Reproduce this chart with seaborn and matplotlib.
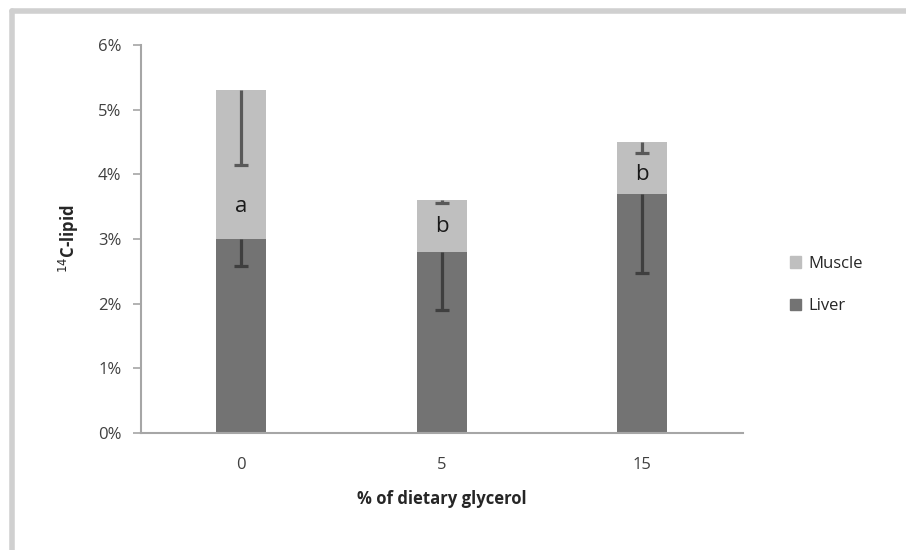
import numpy as np
import pandas as pd
import matplotlib.pyplot as plt
import seaborn as sns
from matplotlib.lines import Line2D
from matplotlib.patches import Patch

groups = ["0", "5", "15"]
liver = [3.0, 2.8, 3.7]
muscle = [2.3, 0.8, 0.8]
liver_err = [0.42, 0.9, 1.23]
muscle_err = [1.15, 0.05, 0.17]
letters = ["a", "b", "b"]
letter_y = [3.5, 3.2, 4.0]

df = pd.DataFrame({"group": groups, "liver": liver, "muscle": muscle})
df["total"] = df["liver"] + df["muscle"]

sns.set_style("white")
plt.rcParams["font.family"] = ["Open Sans", "DejaVu Sans"]

fig = plt.figure(figsize=(9.06, 5.5), dpi=100)
ax = fig.add_axes([0.1556, 0.2127, 0.664, 0.7053])

c_liver = "#737373"
c_muscle = "#bfbfbf"

# totale prima (muscle), poi liver sopra
sns.barplot(data=df, x="group", y="total", color=c_muscle, width=0.25,
            saturation=1, linewidth=0, ax=ax)
sns.barplot(data=df, x="group", y="liver", color=c_liver, width=0.25,
            saturation=1, linewidth=0, ax=ax)

xs = np.arange(len(groups))
for y, err, col in [(df["total"], muscle_err, "#595959"), (df["liver"], liver_err, "#3f3f3f")]:
    eb = ax.errorbar(xs, y, yerr=[err, np.zeros(3)], fmt="none",
                     ecolor=col, elinewidth=2.3, capsize=5, capthick=2.3)
    # solo il cap in basso
    eb[1][1].set_visible(False)

for x, y, t in zip(xs, letter_y, letters):
    ax.text(x, y, t, ha="center", va="center", fontsize=16, color="#1a1a1a")

ax.set_xlim(-0.5, 2.5)
ax.set_ylim(0, 6)
ax.set_yticks(range(7))
ax.set_yticklabels([f"{i}%" for i in range(7)], fontsize=12, color="#404040")
ax.set_xticks(xs)
ax.set_xticklabels(groups, fontsize=12, color="#404040")
ax.tick_params(axis="y", left=True, length=6, width=1.2, color="#a6a6a6", pad=8)
ax.tick_params(axis="x", bottom=False, pad=14)

for s in ["top", "right"]:
    ax.spines[s].set_visible(False)
for s in ["left", "bottom"]:
    ax.spines[s].set_color("#a6a6a6")
    ax.spines[s].set_linewidth(1.5)

ax.set_xlabel("% of dietary glycerol", fontsize=12, fontweight="bold",
              color="#262626", labelpad=12)
ax.set_ylabel(r"$^{14}$C-lipid", fontsize=12, fontweight="bold",
              color="#262626", labelpad=12)

handles = [Patch(color=c_muscle, label="Muscle"), Patch(color=c_liver, label="Liver")]
fig.legend(handles=handles, loc="center left", bbox_to_anchor=(0.855, 0.482),
           frameon=False, fontsize=12, handlelength=0.7, handleheight=0.7,
           handletextpad=0.4, labelspacing=1.6, labelcolor="#262626")

# bordo grigio del grafico (solo sinistra e alto)
fig.add_artist(Line2D([12 / 906, 12 / 906], [0, 1 - 11 / 550], transform=fig.transFigure,
                      color="#d0d0d0", lw=4))
fig.add_artist(Line2D([12 / 906, 1], [1 - 11 / 550, 1 - 11 / 550], transform=fig.transFigure,
                      color="#d0d0d0", lw=4))

plt.savefig("out.png", dpi=100)
plt.close()
